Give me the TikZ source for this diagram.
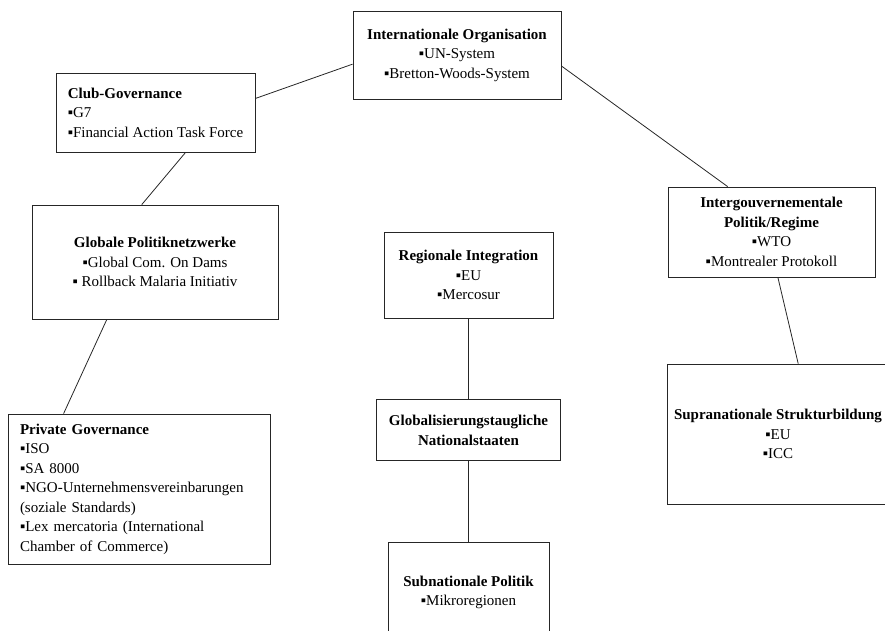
\documentclass[tikz,border=0pt]{standalone}
\usepackage{fontspec}
\setmainfont{Liberation Serif}
\usetikzlibrary{positioning}

\begin{document}
\begin{tikzpicture}[
      x=1pt, y=-1pt,
      mybox/.style={
         rectangle,
         draw=black!85,
         line width=0.8pt,
         align=center,
         inner sep=4pt,
         font=\fontsize{15}{19.5}\selectfont},
      leftbox/.style={
         mybox,
         align=left},
      myline/.style={draw=black!85, line width=0.8pt},
      node distance=81pt
      ]
      \useasboundingbox (0,0) rectangle (885,630);

      \node[mybox,minimum width=208pt,minimum height=88pt] (io) at (457,55)
         {\textbf{Internationale Organisation}\\▪UN-System\\▪Bretton-Woods-System};
      \node[leftbox,minimum width=199pt,minimum height=79pt] (club) at (155.5,112.5)
         {\textbf{Club-Governance}\\▪G7\\▪Financial Action Task Force};
      \node[mybox,minimum width=246pt,minimum height=114pt] (globale) at (155,262)
         {\textbf{Globale Politiknetzwerke}\\▪Global Com. On Dams\\▪ Rollback Malaria Initiativ};
      \node[leftbox,text width=238pt,minimum width=262pt,minimum height=150pt] (private) at (139,489)
         {\textbf{Private Governance}\\▪ISO\\▪SA 8000\\▪NGO-Unternehmensvereinbarungen\\(soziale Standards)\\▪Lex mercatoria (International\\Chamber of Commerce)};
      \node[mybox,minimum width=169pt,minimum height=86pt] (regional) at (468.5,275)
         {\textbf{Regionale Integration}\\▪EU\\▪Mercosur};
      \node[mybox,minimum width=184pt,minimum height=61pt,below=of regional] (globalnat)
         {\textbf{Globalisierungstaugliche}\\\textbf{Nationalstaaten}};
      \node[mybox,minimum width=161pt,minimum height=100pt,below=of globalnat] (subnat)
         {\textbf{Subnationale Politik}\\▪Mikroregionen};
      \node[mybox,minimum width=207pt,minimum height=90pt] (intergov) at (771.5,232)
         {\textbf{Intergouvernementale}\\\textbf{Politik/Regime}\\▪WTO\\▪Montrealer Protokoll};
      \node[mybox,minimum width=222pt,minimum height=140pt] (supra) at (778,434)
         {\textbf{Supranationale Strukturbildung}\\▪EU\\▪ICC};

    \foreach \i/\j in {% from/to
      io.185/club.8,
      club.307/globale.103,
      globale.230/private.135,
      io.354.5/intergov.134,
      intergov.278/supra.74,
      regional/globalnat,
      globalnat/subnat}
       \draw [myline] (\i) -- (\j);
\end{tikzpicture}
\end{document}
